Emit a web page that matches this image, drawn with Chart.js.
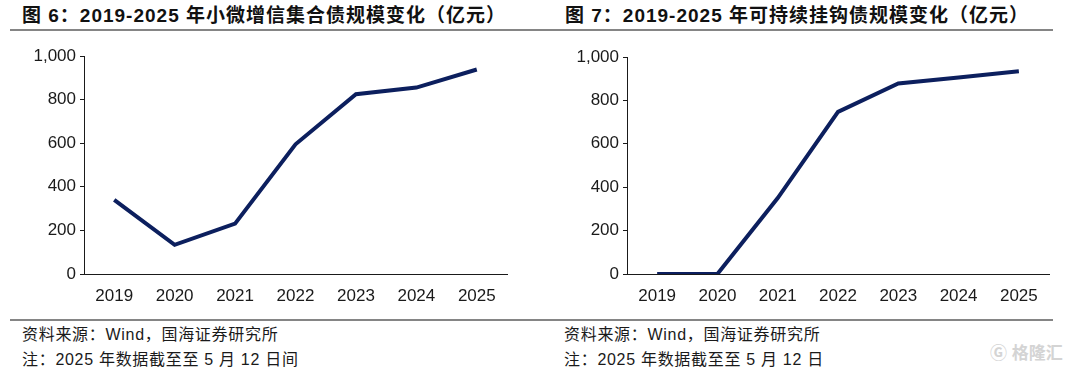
<!DOCTYPE html>
<html>
<head>
<meta charset="utf-8">
<script src="https://cdn.jsdelivr.net/npm/chart.js@4/dist/chart.umd.min.js"></script>
<style>
  html, body { margin:0; padding:0; background:#fff; }
  body { width:1080px; height:368px; position:relative; overflow:hidden;
         font-family:"Liberation Sans","Noto Sans CJK SC",sans-serif; color:#1a1a1a; }
  .title { position:absolute; top:0px; font-size:19px; font-weight:bold; letter-spacing:1px; white-space:nowrap; color:#111; }
  .rule { position:absolute; height:2px; background:#858585; }
  .note { position:absolute; font-size:16px; letter-spacing:0.7px; white-space:nowrap; color:#1a1a1a; }
  .box { position:absolute; top:40px; width:540px; height:280px; }
  .wm { position:absolute; left:990px; top:339px; font-size:17px; color:#d4d4d4; font-weight:bold; white-space:nowrap; }
</style>
</head>
<body>
<div class="title" style="left:22px">图 6：2019-2025 年小微增信集合债规模变化（亿元）</div>
<div class="title" style="left:565px">图 7：2019-2025 年可持续挂钩债规模变化（亿元）</div>
<div class="rule" style="left:10px; width:530px; top:29px"></div>
<div class="rule" style="left:540px; width:513px; top:29px"></div>
<div class="box" style="left:0"><canvas id="c1"></canvas></div>
<div class="box" style="left:540px"><canvas id="c2"></canvas></div>
<div class="rule" style="left:10px; width:530px; top:319px"></div>
<div class="rule" style="left:540px; width:513px; top:319px"></div>
<div class="note" style="left:22px; top:321px">资料来源：Wind，国海证券研究所</div>
<div class="note" style="left:22px; top:346px">注：2025 年数据截至至 5 月 12 日间</div>
<div class="note" style="left:564px; top:321px">资料来源：Wind，国海证券研究所</div>
<div class="note" style="left:564px; top:346px">注：2025 年数据截至至 5 月 12 日</div>
<div class="wm">Ⓖ 格隆汇</div>
<script>
const years = ['2019','2020','2021','2022','2023','2024','2025'];
const microBondValues = [340, 134, 231, 595, 825, 855, 938];
const sustainLinkedValues = [0, 0, 350, 747, 878, 905, 934];
const yMin = 0, yMax = 1000, yStep = 200;

const lineColor = '#0c1f5e';
const axisColor = '#1a1a1a';
const tickFont = { family: '"Liberation Sans", Arial, sans-serif', size: 17 };

function makeChart(id, data, yWidth, padTop, padRight) {
  return new Chart(document.getElementById(id), {
    type: 'line',
    data: { labels: years, datasets: [{ data: data, borderColor: lineColor, borderWidth: 4,
      pointRadius: 0, tension: 0, fill: false, borderJoinStyle: 'miter' }] },
    options: {
      responsive: true, maintainAspectRatio: false, animation: false,
      plugins: { legend: { display: false }, tooltip: { enabled: false } },
      layout: { padding: { left: 0, right: padRight, top: padTop, bottom: 6 } },
      scales: {
        x: {
          offset: true,
          grid: { display: false, drawTicks: false },
          border: { display: true, color: axisColor, width: 1 },
          ticks: { color: '#1a1a1a', font: tickFont, padding: 12, maxRotation: 0 },
          afterFit: s => { s.height = 40; }
        },
        y: {
          min: yMin, max: yMax,
          grid: { display: true, drawOnChartArea: false, drawTicks: true, tickLength: 4, color: axisColor },
          border: { display: true, color: axisColor, width: 1 },
          ticks: { stepSize: yStep, color: '#1a1a1a', font: tickFont, padding: 4,
                   callback: v => v.toLocaleString('en-US') },
          afterFit: s => { s.width = yWidth; }
        }
      }
    }
  });
}
makeChart('c1', microBondValues, 84, 16, 33);
makeChart('c2', sustainLinkedValues, 87, 17, 31);
</script>
</body>
</html>
